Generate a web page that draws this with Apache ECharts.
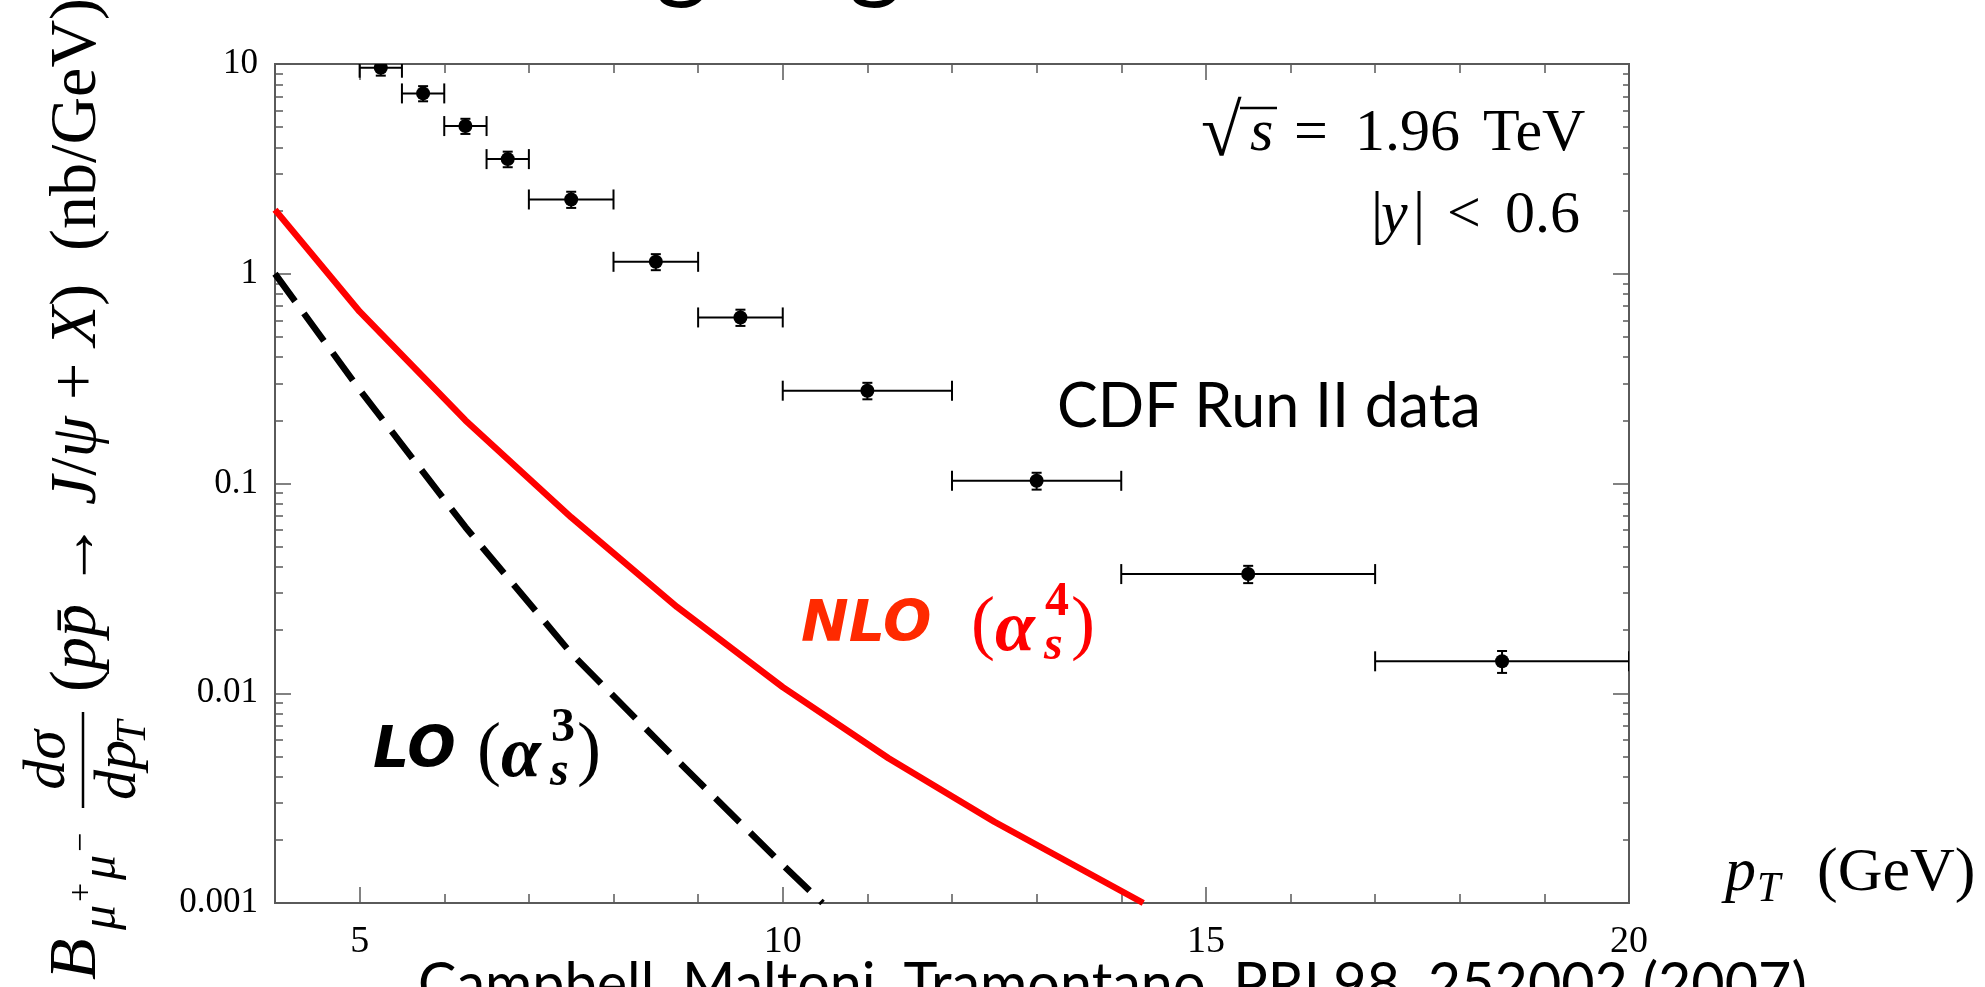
<!DOCTYPE html>
<html>
<head>
<meta charset="utf-8">
<title>J/psi production at the Tevatron</title>
<script src="https://cdn.jsdelivr.net/npm/echarts@6/dist/echarts.min.js"></script>
<style>
  html, body { margin: 0; padding: 0; background: #fff; }
  #chart { width: 1985px; height: 987px; }
</style>
</head>
<body>
<div id="chart"></div>
<script>
// ---- CDF Run II prompt J/psi data (|y| < 0.6), nb/GeV ----
const binLow    = [5.0, 5.5, 6.0, 6.5, 7.0, 8.0, 9.0, 10.0, 12.0, 14.0, 17.0];
const binHigh   = [5.5, 6.0, 6.5, 7.0, 8.0, 9.0, 10.0, 12.0, 14.0, 17.0, 20.0];
const binCenter = [5.25, 5.75, 6.25, 6.75, 7.5, 8.5, 9.5, 11.0, 13.0, 15.5, 18.5];
const cdfValue  = [9.6, 7.24, 5.06, 3.52, 2.26, 1.14, 0.619, 0.277, 0.103, 0.037, 0.0142];
const cdfError  = [0.8, 0.6, 0.42, 0.3, 0.2, 0.1, 0.055, 0.025, 0.0095, 0.0035, 0.0017];

// ---- colour-singlet predictions ----
const nloPt  = [4.0, 5.0, 6.25, 7.5, 8.75, 10.0, 11.25, 12.5, 14.26];
const nloVal = [2.02, 0.66, 0.20, 0.069, 0.0258, 0.0107, 0.0049, 0.00244, 0.001];
const loPt   = [4.0, 5.0, 6.25, 7.5, 8.75, 10.0, 10.47];
const loVal  = [1.0, 0.28, 0.062, 0.0155, 0.0048, 0.00152, 0.001];

// ---- axis ticks ----
const xMajorTicks = [5, 10, 15, 20];
const xMinorTicks = [4, 5, 6, 7, 8, 9, 10, 11, 12, 13, 14, 15, 16, 17, 18, 19, 20];
const yMajorTicks = [0.001, 0.01, 0.1, 1, 10];
const yMinorTicks = [];
for (const decade of [0.001, 0.01, 0.1, 1]) {
  for (let k = 2; k <= 9; k++) yMinorTicks.push(k * decade);
}

const SERIF = '"Liberation Serif", "Times New Roman", serif';
const SANS_BOLD = '"DejaVu Sans", Verdana, sans-serif';
const HUMANIST = 'Lato, "Open Sans", sans-serif';
const FRAME = '#5a5a5a';

const cdfRows = binCenter.map((x, i) => [
  x, cdfValue[i], binLow[i], binHigh[i], cdfValue[i] - cdfError[i], cdfValue[i] + cdfError[i]
]);

function xAxisDef(position, ticks, len, labels) {
  return {
    type: 'value', min: 4, max: 20, position: position,
    axisLine: { show: true, onZero: false, lineStyle: { color: FRAME, width: 2 } },
    axisTick: { show: true, inside: true, length: len, customValues: ticks,
                lineStyle: { color: FRAME, width: 1.5 } },
    axisLabel: labels
      ? { show: true, customValues: ticks, color: '#000', fontFamily: SERIF, fontSize: 38, margin: 20 }
      : { show: false },
    splitLine: { show: false }
  };
}
function yAxisDef(position, ticks, len, labels) {
  return {
    type: 'log', logBase: 10, min: 0.001, max: 10, position: position,
    axisLine: { show: true, onZero: false, lineStyle: { color: FRAME, width: 2 } },
    axisTick: { show: true, inside: true, length: len, customValues: ticks,
                lineStyle: { color: FRAME, width: 1.5 } },
    axisLabel: labels
      ? { show: true, customValues: ticks, color: '#000', fontFamily: SERIF, fontSize: 35, margin: 17,
          formatter: v => String(+v.toPrecision(3)) }
      : { show: false },
    splitLine: { show: false }
  };
}

function errorBarItem(params, api) {
  const y = api.value(1);
  const c  = api.coord([api.value(0), y]);
  const l  = api.coord([api.value(2), y]);
  const r  = api.coord([api.value(3), y]);
  const lo = api.coord([api.value(0), api.value(4)]);
  const hi = api.coord([api.value(0), api.value(5)]);
  const st = { stroke: '#000', lineWidth: 2 };
  const seg = (x1, y1, x2, y2) => ({ type: 'line', shape: { x1, y1, x2, y2 }, style: st });
  return {
    type: 'group',
    children: [
      seg(l[0], l[1], r[0], r[1]),
      seg(l[0], l[1] - 10, l[0], l[1] + 10),
      seg(r[0], r[1] - 10, r[0], r[1] + 10),
      seg(lo[0], lo[1], hi[0], hi[1]),
      seg(lo[0] - 5, lo[1], lo[0] + 5, lo[1]),
      seg(hi[0] - 5, hi[1], hi[0] + 5, hi[1]),
      { type: 'circle', shape: { cx: c[0], cy: c[1], r: 7 }, style: { fill: '#000' } }
    ]
  };
}

// Label such as "NLO (alpha_s^4)": bold sans word followed by the coupling power
function orderLabel(x, y, parenX, word, power, wordColor, mathColor) {
  const math = SERIF;
  return {
    type: 'group', x: x, y: y,
    children: [
      { type: 'text', x: 0, y: 0, style: { text: word, fill: wordColor,
        font: 'italic bold 57px ' + SANS_BOLD, align: 'left', verticalAlign: 'middle' } },
      { type: 'text', x: parenX, y: 1, style: { text: '(', fill: mathColor,
        font: '72px ' + math, align: 'left', verticalAlign: 'middle' } },
      { type: 'text', x: parenX + 24, y: 5, style: { text: 'α', fill: mathColor,
        font: 'italic bold 72px ' + math, align: 'left', verticalAlign: 'middle' } },
      { type: 'text', x: parenX + 74, y: -23, style: { text: power, fill: mathColor,
        font: 'bold 48px ' + math, align: 'left', verticalAlign: 'middle' } },
      { type: 'text', x: parenX + 73, y: 21, style: { text: 's', fill: mathColor,
        font: 'italic bold 48px ' + math, align: 'left', verticalAlign: 'middle' } },
      { type: 'text', x: parenX + 100, y: 1, style: { text: ')', fill: mathColor,
        font: '72px ' + math, align: 'left', verticalAlign: 'middle' } }
    ]
  };
}

const txt = (x, y, text, font, extra) => ({
  type: 'text', x: x, y: y,
  style: Object.assign({ text: text, font: font, fill: '#000', align: 'left', verticalAlign: 'middle' }, extra || {})
});

// Vertical axis title, written along the left edge (reads bottom to top)
const yTitle = {
  type: 'group', x: 100, y: 980, rotation: Math.PI / 2,
  children: [
    txt(0, -23, 'B', 'italic 68px ' + SERIF),
    txt(50, 2, 'μ', 'italic 50px ' + SERIF),
    txt(78, -18, '+', '34px ' + SERIF),
    txt(100, 2, 'μ', 'italic 50px ' + SERIF),
    txt(128, -18, '−', '34px ' + SERIF),
    { type: 'line', shape: { x1: 172, y1: -17, x2: 268, y2: -17 }, style: { stroke: '#000', lineWidth: 2.5 } },
    txt(220, -52, 'dσ', 'italic 60px ' + SERIF, { align: 'center' }),
    txt(180, 19, 'dp', 'italic 60px ' + SERIF),
    txt(236, 34, 'T', 'italic 42px ' + SERIF),
    {
      type: 'text', x: 288, y: -22,
      style: {
        text: '(' + '{i|pp\u0304}' + ' → ' + '{i|J}/{i|ψ}' + ' + ' + '{i|X}' + ')  (nb/GeV)',
        font: '66px ' + SERIF, fill: '#000', align: 'left', verticalAlign: 'middle',
        rich: { i: { fontStyle: 'italic', fontSize: 66, fontFamily: SERIF } }
      }
    }
  ]
};

const option = {
  animation: false,
  backgroundColor: '#fff',
  grid: { left: 275, right: 356, top: 64, bottom: 84, containLabel: false },
  xAxis: [
    xAxisDef('bottom', xMajorTicks, 16, true),
    xAxisDef('bottom', xMinorTicks, 9, false),
    xAxisDef('top', xMajorTicks, 16, false),
    xAxisDef('top', xMinorTicks, 9, false)
  ],
  yAxis: [
    yAxisDef('left', yMajorTicks, 16, true),
    yAxisDef('left', yMinorTicks, 8, false),
    yAxisDef('right', yMajorTicks, 16, false),
    yAxisDef('right', yMinorTicks, 6, false)
  ],
  series: [
    {
      name: 'LO', type: 'line', xAxisIndex: 0, yAxisIndex: 0,
      data: loPt.map((x, i) => [x, loVal[i]]),
      showSymbol: false, smooth: false, clip: true,
      lineStyle: { color: '#000', width: 6.5, type: [34, 15], cap: 'butt' },
      z: 3
    },
    {
      name: 'NLO', type: 'line', xAxisIndex: 0, yAxisIndex: 0,
      data: nloPt.map((x, i) => [x, nloVal[i]]),
      showSymbol: false, smooth: false, clip: true,
      lineStyle: { color: '#ff0000', width: 6.5 },
      z: 3
    },
    {
      name: 'CDF Run II data', type: 'custom', xAxisIndex: 0, yAxisIndex: 0,
      renderItem: errorBarItem, data: cdfRows, clip: true, z: 4,
      encode: { x: [0, 2, 3], y: [1, 4, 5] }
    }
  ],
  graphic: [
    // slide heading above the frame (only its descenders fall inside the page)
    txt(655, -44, 'going', '103px ' + HUMANIST),
    yTitle,
    // sqrt(s) = 1.96 TeV
    txt(1201, 136, '√', '74px ' + SERIF),
    { type: 'line', shape: { x1: 1240, y1: 108, x2: 1277, y2: 108 }, style: { stroke: '#000', lineWidth: 2.5 } },
    txt(1250, 134, 's', 'italic 60px ' + SERIF),
    txt(1294, 134, '=', '60px ' + SERIF),
    txt(1355, 134, '1.96', '60px ' + SERIF),
    txt(1483, 134, 'TeV', '60px ' + SERIF),
    // |y| < 0.6
    txt(1371, 216, '|', '60px ' + SERIF),
    txt(1381, 216, 'y', 'italic 60px ' + SERIF),
    txt(1413, 216, '|', '60px ' + SERIF),
    txt(1447, 216, '<', '60px ' + SERIF),
    txt(1505, 216, '0.6', '60px ' + SERIF),
    txt(1057, 407, 'CDF Run II data', '61px ' + HUMANIST),
    orderLabel(801, 626, 170, 'NLO', '4', '#ff2a00', '#ff0000'),
    orderLabel(373, 752, 104, 'LO', '3', '#000', '#000'),
    // horizontal axis title: p_T (GeV)
    txt(1725, 874, 'p', 'italic 62px ' + SERIF),
    txt(1757, 890, 'T', 'italic 42px ' + SERIF),
    txt(1817, 874, '(GeV)', '62px ' + SERIF),
    // reference line at the foot of the figure
    txt(418, 985, 'Campbell, Maltoni, Tramontano, PRL98, 252002 (2007)', '57.5px ' + HUMANIST)
  ]
};

const chart = echarts.init(document.getElementById('chart'), null, { renderer: 'canvas' });
chart.setOption(option);
</script>
</body>
</html>
